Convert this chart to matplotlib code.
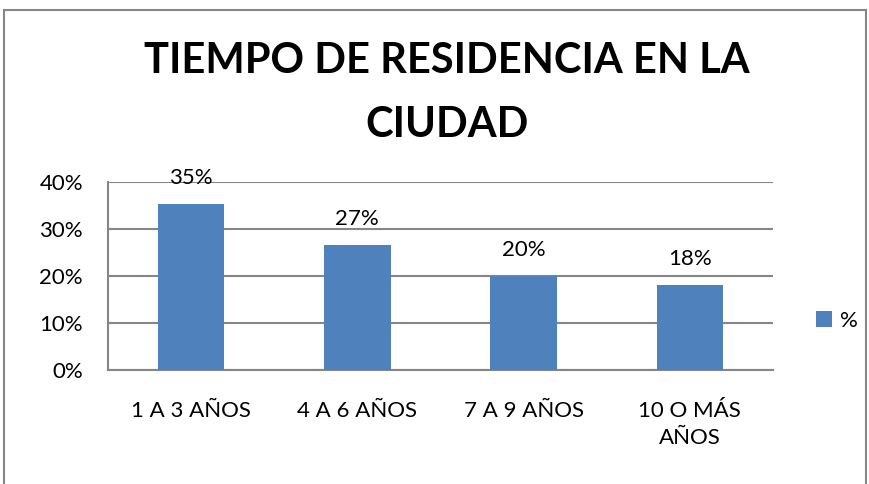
import matplotlib
matplotlib.use("Agg")
import matplotlib.pyplot as plt
from matplotlib.ticker import PercentFormatter
from matplotlib.patches import Rectangle

categories = ["1 A 3 AÑOS", "4 A 6 AÑOS", "7 A 9 AÑOS", "10 O MÁS\nAÑOS"]
values = [0.354, 0.266, 0.200, 0.181]
series_name = "%"
title = "TIEMPO DE RESIDENCIA EN LA\nCIUDAD"

plt.rcParams['font.family'] = ['Lato', 'DejaVu Sans']

fig = plt.figure(figsize=(8.7, 4.84), dpi=100)
ax = fig.add_axes([108/870, 1-370/484, (773-108)/870, (370-182)/484])

x = list(range(len(categories)))
bars = ax.bar(x, values, width=0.4, color="#4F81BD", label=series_name, zorder=3)
for xi, v in zip(x, values):
    ax.text(xi, v + 0.042, f"{round(v*100):.0f}%", ha="center", va="baseline", fontsize=16, color="#000000")

ax.set_xlim(-0.5, len(categories) - 0.5)
ax.set_ylim(0, 0.4)
ax.set_yticks([0, 0.1, 0.2, 0.3, 0.4])
ax.yaxis.set_major_formatter(PercentFormatter(1.0, decimals=0))
ax.set_xticks(x)
ax.set_xticklabels(categories, fontsize=16, linespacing=1.45)
ax.tick_params(axis="y", labelsize=16, length=0, pad=18)
ax.tick_params(axis="x", length=0, pad=22)
ax.grid(axis="y", color="#868686", linewidth=1.5, zorder=0)
for s in ["top", "right"]:
    ax.spines[s].set_visible(False)
ax.spines["left"].set_color("#868686")
ax.spines["bottom"].set_color("#868686")
ax.spines["left"].set_linewidth(1.5)
ax.spines["bottom"].set_linewidth(1.5)

fig.text(447/870, 1 - 93/484, title, ha="center", va="center", fontsize=30, fontweight="bold", linespacing=1.85)

leg = fig.legend(handles=[bars], labels=[series_name], loc="center left",
                 bbox_to_anchor=(796/870, 1 - 321/484), frameon=False, fontsize=16,
                 handlelength=0.7, handleheight=0.7, handletextpad=0.4)

fig.patches.append(Rectangle((4/870, -0.1), (866-4)/870, 1 - 10/484 + 0.1, transform=fig.transFigure,
                             fill=False, edgecolor="#868686", linewidth=1.5))

fig.savefig("out.png", dpi=100)
